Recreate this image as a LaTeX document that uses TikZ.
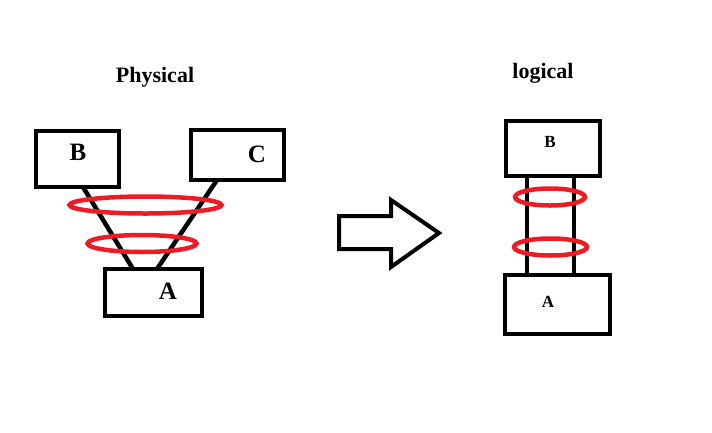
\documentclass[tikz,border=0pt]{standalone}
\usepackage{fontspec}
\setmainfont{Liberation Serif}
\usetikzlibrary{calc,shapes.geometric}
\definecolor{Ink}{RGB}{0,0,0}
\definecolor{RingRed}{RGB}{237,28,36}
\tikzset{
  box/.style={draw=Ink,line width=4pt,fill=white,inner sep=0pt},
  tag/.style={font=\bfseries\fontsize{25}{28}\selectfont,text=Ink,inner sep=0pt},
  smalltag/.style={tag,font=\bfseries\fontsize{17}{20}\selectfont},
  heading/.style={font=\bfseries\fontsize{22}{25}\selectfont,text=Ink,inner sep=0pt,anchor=base},
  ring/.style={ellipse,draw=RingRed,line width=4.5pt,inner sep=0pt},
  link/.style={line width=4.5pt,draw=Ink},
  fatarrow/.style={draw=Ink,line width=4pt,fill=white,line join=miter}
}
\begin{document}
\begin{tikzpicture}[x=1pt,y=-1pt]
  \useasboundingbox (0,0) rectangle (712,432);
  \node[heading] (physTitle) at (155,82) {Physical};
  \node[heading] (logTitle) at (543,78) {logical};
  \node[box,minimum width=83pt,minimum height=56pt] (pB) at (77.5,159) {};
  \node[box,minimum width=93pt,minimum height=50pt] (pC) at (237.5,155) {};
  \node[box,minimum width=97pt,minimum height=47pt] (pA) at (153.5,292.5) {};
  \node[tag] (pBtag) at (78,152) {B};
  \node[tag] (pCtag) at (257,154) {C};
  \node[tag] (pAtag) at (168,291) {A};
  \draw[link] ([xshift=5.5pt,yshift=2pt]pB.south) -- ([xshift=-20.5pt,yshift=-2pt]pA.north);
  \draw[link] ([xshift=-20.5pt,yshift=2pt]pC.south) -- ([xshift=3.5pt,yshift=-2pt]pA.north);
  \node[ring,minimum width=152pt,minimum height=17pt] (pRingTop) at (145.5,205) {};
  \node[ring,minimum width=109pt,minimum height=17pt] (pRingLow) at (142,243.5) {};
  \draw[fatarrow] (339,216) -- (391,216) -- (391,200) -- (439,233) -- (391,267) -- (391,249) -- (339,249) -- cycle;
  \node[box,minimum width=94pt,minimum height=55pt] (lB) at (553,148.5) {};
  \node[box,minimum width=105pt,minimum height=59pt] (lA) at (557.5,304.5) {};
  \node[smalltag] (lBtag) at (550,142) {B};
  \node[smalltag] (lAtag) at (548,302) {A};
  \draw[link,line width=4pt] ([xshift=-26pt]lB.south) -- ([xshift=-26pt]lB.south |- lA.north);
  \draw[link,line width=4pt] ([xshift=21pt]lB.south) -- ([xshift=21pt]lB.south |- lA.north);
  \node[ring,minimum width=70pt,minimum height=17pt] (lRingTop) at (550,197) {};
  \node[ring,minimum width=73pt,minimum height=17pt] (lRingLow) at (550.5,247) {};
\end{tikzpicture}
\end{document}
